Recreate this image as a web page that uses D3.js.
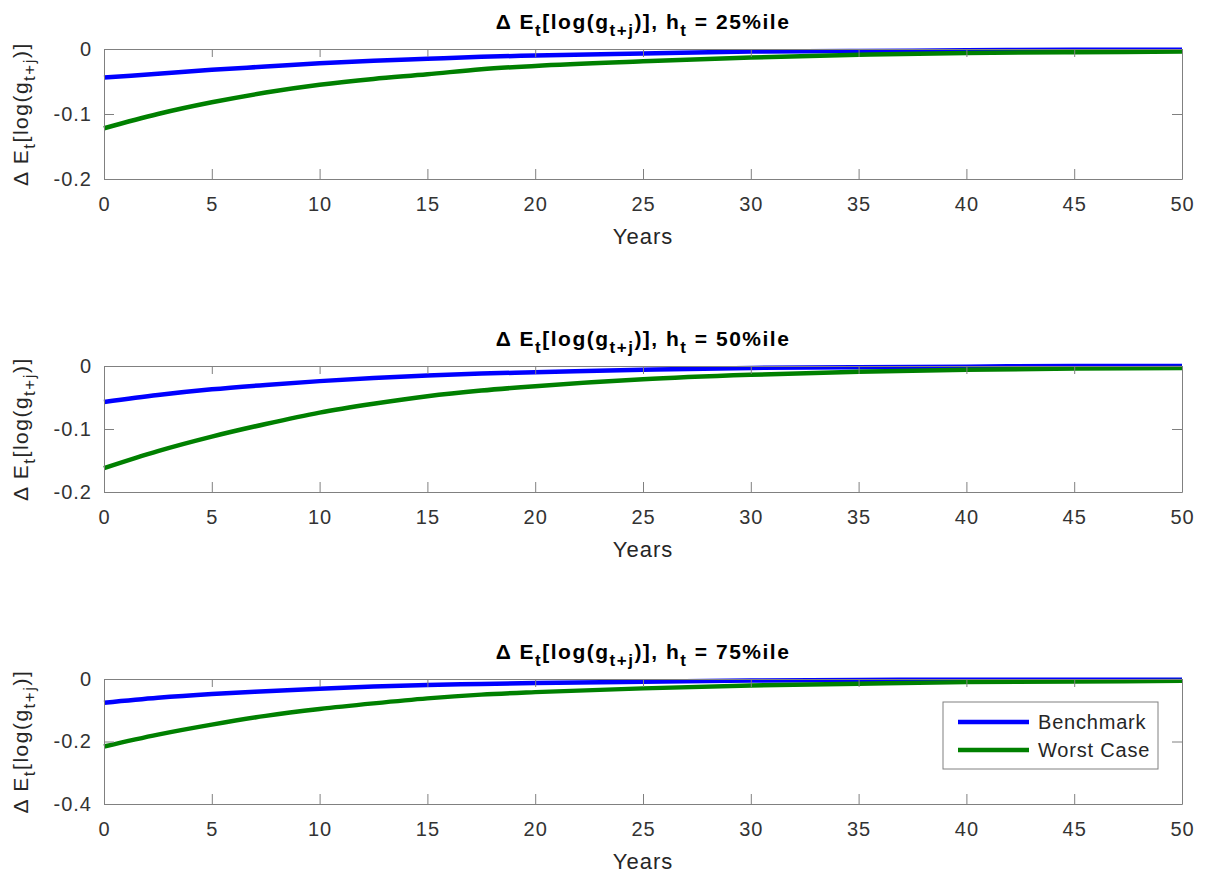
<!DOCTYPE html>
<html>
<head>
<meta charset="utf-8">
<title>Delta E_t log g</title>
<style type="text/css">
body { margin: 0; background: #fff; }
svg text { font-family: "Liberation Sans", Arial, sans-serif; fill: #262626; }
.axis path, .axis line { stroke: #808080; }
.axis text { font-size: 20px; fill: #333; letter-spacing: 1px; }
.line { fill: none; stroke-width: 4.5px; }
</style>
<script src="https://cdn.jsdelivr.net/npm/d3@7"></script>
</head>
<body>
<svg width="1209" height="880"></svg>
<script type="text/javascript">

// horizon in years
var years = [0, 2.5, 5, 7.5, 10, 12.5, 15, 17.5, 20, 25, 30, 35, 40, 45, 50];

var bench25 = [-0.044, -0.038, -0.032, -0.027, -0.022, -0.018, -0.015, -0.012, -0.010, -0.007, -0.004, -0.003, -0.002, -0.001, -0.001];
var worst25 = [-0.122, -0.100, -0.082, -0.067, -0.055, -0.046, -0.039, -0.031, -0.026, -0.019, -0.013, -0.009, -0.006, -0.005, -0.004];
var bench50 = [-0.057, -0.046, -0.037, -0.030, -0.024, -0.019, -0.015, -0.012, -0.010, -0.006, -0.003, -0.002, -0.001, 0, 0];
var worst50 = [-0.162, -0.135, -0.112, -0.092, -0.074, -0.060, -0.048, -0.039, -0.032, -0.021, -0.014, -0.009, -0.006, -0.004, -0.003];
var bench75 = [-0.076, -0.060, -0.048, -0.039, -0.031, -0.024, -0.019, -0.016, -0.013, -0.009, -0.005, -0.003, -0.002, -0.002, -0.002];
var worst75 = [-0.216, -0.178, -0.146, -0.118, -0.096, -0.078, -0.062, -0.050, -0.042, -0.030, -0.021, -0.015, -0.010, -0.008, -0.006];

var xTicks = [0, 5, 10, 15, 20, 25, 30, 35, 40, 45, 50];
var percentiles = ["25", "50", "75"];
var yTicks = [[-0.2, -0.1, 0], [-0.2, -0.1, 0], [-0.4, -0.2, 0]];
var yDomains = [[-0.2, 0], [-0.2, 0], [-0.4, 0]];
var seriesNames = ["Benchmark", "Worst Case"];
var seriesColors = ["#0000ff", "#008000"];
var panelData = [[bench25, worst25], [bench50, worst50], [bench75, worst75]];

var svg = d3.select("svg");
var left = 104, right = 1182;
var tops = [49, 366, 679], bottoms = [179, 492, 804];

var x = d3.scaleLinear().domain([0, 50]).range([left, right]);

// E_t[log(g_t+j)] with subscripts, used by titles and y labels
function deltaLabel(sel, sub, tail) {
  sel.append("tspan").text("\u0394 E");
  sel.append("tspan").attr("dy", 7).style("font-size", sub + "px").text("t");
  sel.append("tspan").attr("dy", -7).text("[log(g");
  sel.append("tspan").attr("dy", 7).style("font-size", sub + "px").text("t+j");
  sel.append("tspan").attr("dy", -7).text(")]" + tail[0]);
  if (tail.length > 1) {
    sel.append("tspan").attr("dy", 7).style("font-size", sub + "px").text("t");
    sel.append("tspan").attr("dy", -7).text(tail[1]);
  }
}

panelData.forEach(function(series, i) {
  var y = d3.scaleLinear().domain(yDomains[i]).range([bottoms[i], tops[i]]);
  var g = svg.append("g");

  series.forEach(function(vals, k) {
    var line = d3.line()
      .x(function(d, j) { return x(years[j]); })
      .y(function(d) { return y(d); })
      .curve(d3.curveMonotoneX);
    g.append("path")
      .datum(vals)
      .attr("class", "line")
      .attr("stroke", seriesColors[k])
      .attr("d", line);
  });

  g.append("g")
    .attr("class", "axis")
    .attr("transform", "translate(0," + bottoms[i] + ")")
    .call(d3.axisBottom(x).tickValues(xTicks).tickSizeInner(-10).tickSizeOuter(0).tickPadding(18).tickFormat(d3.format("d")));
  g.append("g")
    .attr("class", "axis")
    .attr("transform", "translate(0," + tops[i] + ")")
    .call(d3.axisTop(x).tickValues(xTicks).tickSizeInner(-8).tickSizeOuter(0).tickFormat(""));
  g.append("g")
    .attr("class", "axis")
    .attr("transform", "translate(" + left + ",0)")
    .call(d3.axisLeft(y).tickValues(yTicks[i]).tickSizeInner(-10).tickSizeOuter(0).tickPadding(12)
      .tickFormat(function(d) { return d === 0 ? "0" : String(d); }));
  g.append("g")
    .attr("class", "axis")
    .attr("transform", "translate(" + right + ",0)")
    .call(d3.axisRight(y).tickValues(yTicks[i]).tickSizeInner(-10).tickSizeOuter(0).tickFormat(""));

  // title
  var t = g.append("text")
    .attr("x", (left + right) / 2)
    .attr("y", tops[i] - 20)
    .attr("text-anchor", "middle")
    .style("font-size", "21px")
    .style("font-weight", "bold")
    .style("letter-spacing", "1.5px")
    .style("fill", "#000");
  deltaLabel(t, 17, [", h", " = " + percentiles[i] + "%ile"]);

  // y label
  var yl = g.append("text")
    .attr("transform", "translate(28," + ((tops[i] + bottoms[i]) / 2) + ") rotate(-90)")
    .attr("text-anchor", "middle")
    .style("font-size", "21px")
    .style("letter-spacing", "1.5px");
  deltaLabel(yl, 17, [""]);

  // x label
  g.append("text")
    .attr("x", (left + right) / 2)
    .attr("y", bottoms[i] + 65)
    .attr("text-anchor", "middle")
    .style("font-size", "22px")
    .style("letter-spacing", "1px")
    .text("Years");
});

// legend on the last panel
var lg = svg.append("g").attr("transform", "translate(943,702)");
lg.append("rect")
  .attr("width", 215).attr("height", 67)
  .attr("fill", "#fff").attr("stroke", "#808080");
seriesNames.forEach(function(name, k) {
  var yy = 20 + k * 28;
  lg.append("line")
    .attr("x1", 15).attr("x2", 86).attr("y1", yy).attr("y2", yy)
    .attr("stroke", seriesColors[k]).attr("stroke-width", 4.5);
  lg.append("text")
    .attr("x", 95).attr("y", yy + 7)
    .style("font-size", "20px")
    .style("letter-spacing", "0.8px")
    .text(name);
});

</script>
</body>
</html>
